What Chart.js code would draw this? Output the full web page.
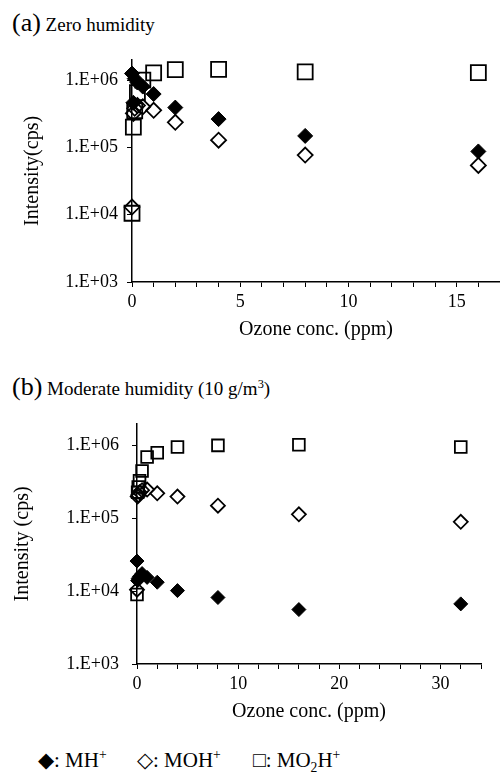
<!DOCTYPE html>
<html>
<head>
<meta charset="utf-8">
<script src="https://cdn.jsdelivr.net/npm/chart.js@4.4.0/dist/chart.umd.min.js"></script>
<style>
  body { margin: 0; background: #fff; color: #000; font-family: 'Liberation Serif', serif; }
  #page { position: relative; width: 500px; height: 772px; overflow: hidden; }
  .panelTitle { position: absolute; left: 12px; font-size: 19px; line-height: 1; white-space: nowrap; }
  .panelTitle .tag { font-size: 26px; }
  .box { position: absolute; left: 0; width: 500px; }
  #legend { position: absolute; top: 750px; left: 0; width: 500px; height: 22px; font-size: 21px; line-height: 1; }
  #legend span { position: absolute; white-space: nowrap; }
  sup, sub { font-size: 0.65em; line-height: 0; }
</style>
</head>
<body>
<div id="page">
  <div class="panelTitle" style="top:10px"><span class="tag">(a)</span> Zero humidity</div>
  <div class="box" style="top:40px;height:310px"><canvas id="chartA"></canvas></div>

  <div class="panelTitle" style="top:374px"><span class="tag">(b)</span> Moderate humidity (10 g/m<sup>3</sup>)</div>
  <div class="box" style="top:400px;height:330px"><canvas id="chartB"></canvas></div>

  <div id="legend">
    <span style="left:38px">&#9670;: MH<sup>+</sup></span>
    <span style="left:137px">&#9671;: MOH<sup>+</sup></span>
    <span style="left:253px">&#9633;: MO<sub>2</sub>H<sup>+</sup></span>
  </div>
</div>
<script>
// (a) zero humidity
const ozoneA = [0, 0.0625, 0.125, 0.25, 0.5, 1, 2, 4, 8, 16];
const mhA    = [1.25e6, 4.6e5, 1.05e6, 9.2e5, 8.0e5, 6.2e5, 3.9e5, 2.63e5, 1.48e5, 8.7e4];
const mohA   = [1.3e4, 3.2e5, 3.8e5, 4.2e5, 4.0e5, 3.55e5, 2.36e5, 1.28e5, 7.7e4, 5.4e4];
const mo2hA  = [1.05e4, 2.0e5, 3.5e5, 6.5e5, 1.0e6, 1.28e6, 1.43e6, 1.44e6, 1.32e6, 1.29e6];

// (b) moderate humidity
const ozoneB = [0, 0.0625, 0.125, 0.25, 0.5, 1, 2, 4, 8, 16, 32];
const mhB    = [2.6e4, 1.4e4, 1.5e4, 1.6e4, 1.75e4, 1.55e4, 1.33e4, 1.02e4, 8.2e3, 5.6e3, 6.7e3];
const mohB   = [1.05e4, 2.0e5, 2.1e5, 2.3e5, 2.45e5, 2.5e5, 2.22e5, 2.0e5, 1.5e5, 1.14e5, 9.0e4];
const mo2hB  = [9.0e3, 2.3e5, 2.7e5, 3.3e5, 4.5e5, 7.0e5, 8.0e5, 9.6e5, 1.01e6, 1.03e6, 9.6e5];

const yTicks = [1e3, 1e4, 1e5, 1e6];

const serif = "'Liberation Serif', 'Times New Roman', serif";

function points(xs, ys) {
    return xs.map((x, i) => ({ x: x, y: ys[i] }));
}

function makeChart(id, xs, mh, moh, mo2h, cfg) {
    const ctx = document.getElementById(id).getContext('2d');
    return new Chart(ctx, {
        type: 'scatter',
        data: {
            datasets: [
                {
                    label: 'MH+',
                    data: points(xs, mh),
                    pointStyle: 'rectRot',
                    pointRadius: cfg.diamond,
                    backgroundColor: '#000',
                    borderColor: '#000',
                    borderWidth: 1,
                    clip: false,
                },
                {
                    label: 'MOH+',
                    data: points(xs, moh),
                    pointStyle: 'rectRot',
                    pointRadius: cfg.diamond,
                    backgroundColor: 'rgba(0,0,0,0)',
                    borderColor: '#000',
                    borderWidth: 1.8,
                    clip: false,
                },
                {
                    label: 'MO2H+',
                    data: points(xs, mo2h),
                    pointStyle: 'rect',
                    pointRadius: cfg.square,
                    backgroundColor: 'rgba(0,0,0,0)',
                    borderColor: '#000',
                    borderWidth: 1.8,
                    clip: false,
                },
            ],
        },
        options: {
            responsive: true,
            maintainAspectRatio: false,
            animation: false,
            layout: {
                autoPadding: false, // markers may sit on the axis edges
                padding: { top: cfg.padTop, right: cfg.padRight, left: 0, bottom: 0 },
            },
            plugins: {
                legend: { display: false },
                tooltip: { enabled: false },
            },
            scales: {
                x: {
                    type: 'linear',
                    min: 0,
                    max: cfg.xMax,
                    afterFit: (s) => {
                        s.height = cfg.xHeight;
                        s.paddingLeft = 0;
                        s.paddingRight = 0;
                    },
                    ticks: {
                        stepSize: cfg.xStep,
                        autoSkip: false,
                        maxRotation: 0,
                        padding: 4,
                        color: '#000',
                        font: { family: serif, size: 18 },
                        callback: (v) => (v % cfg.xLabelEvery === 0 ? v : ''),
                    },
                    grid: { drawOnChartArea: false, color: '#000', tickLength: 5, lineWidth: 1 },
                    border: { color: '#000', width: 1.5 },
                    title: {
                        display: true,
                        text: 'Ozone conc. (ppm)',
                        color: '#000',
                        font: { family: serif, size: 20 },
                        padding: { top: 0, bottom: cfg.xTitlePad },
                    },
                },
                y: {
                    type: 'logarithmic',
                    min: 1e3,
                    max: 2e6,
                    afterBuildTicks: (s) => { s.ticks = yTicks.map((v) => ({ value: v })); },
                    afterFit: (s) => { s.width = cfg.yWidth; },
                    ticks: {
                        padding: cfg.yTickPad,
                        color: '#000',
                        font: { family: serif, size: 18 },
                        callback: (v) => '1.E+0' + Math.round(Math.log10(v)),
                    },
                    grid: { drawOnChartArea: false, color: '#000', tickLength: 5, lineWidth: 1 },
                    border: { color: '#000', width: 1.5 },
                    title: {
                        display: true,
                        text: cfg.yTitle,
                        color: '#000',
                        font: { family: serif, size: 20 },
                        padding: { top: cfg.yTitlePad, bottom: 0 },
                    },
                },
            },
        },
    });
}

makeChart('chartA', ozoneA, mhA, mohA, mo2hA, {
    diamond: 7.5, square: 10.6,
    padTop: 13, padRight: 0,
    xMax: 17, xStep: 1, xLabelEvery: 5, xHeight: 68, xTitlePad: 8,
    yWidth: 132, yTickPad: 9, yTitle: 'Intensity(cps)', yTitlePad: 21,
});

makeChart('chartB', ozoneB, mhB, mohB, mo2hB, {
    diamond: 7, square: 8.3,
    padTop: 15, padRight: 19,
    xMax: 34, xStep: 2, xLabelEvery: 10, xHeight: 66, xTitlePad: 6,
    yWidth: 137, yTickPad: 13, yTitle: 'Intensity (cps)', yTitlePad: 11,
});
</script>
</body>
</html>
